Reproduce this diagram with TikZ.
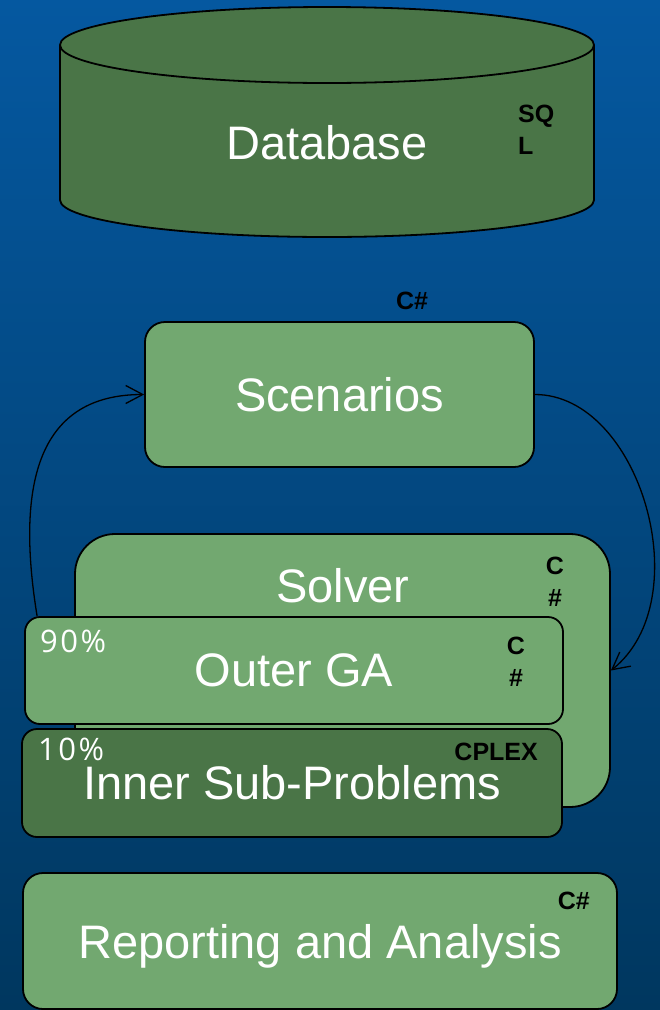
\documentclass[tikz,border=0pt]{standalone}
\usepackage{fontspec}
\setmainfont{Liberation Sans}
\newfontfamily\pctfont[LetterSpace=8]{Open Sans}
\usetikzlibrary{arrows.meta,calc}
\definecolor{bgtop}{HTML}{0558A0}
\definecolor{bgbottom}{HTML}{00375F}
\definecolor{lightgreen}{HTML}{72A870}
\definecolor{darkgreen}{HTML}{4A7547}
\tikzset{
  box/.style={draw=black, line width=1.8pt, fill=lightgreen, text=white,
    rounded corners=20pt, inner sep=0pt, font=\fontsize{47}{56}\selectfont},
  darkbox/.style={box, fill=darkgreen},
  title/.style={text=white, inner sep=0pt, font=\fontsize{47}{56}\selectfont},
  lang/.style={inner sep=0pt, font=\bfseries\fontsize{25}{32}\selectfont},
  share/.style={text=white, inner sep=0pt, font=\pctfont\fontsize{31}{36}\selectfont},
  flow/.style={draw=black, line width=1.3pt, -{Straight Barb[length=17pt,width=18pt,line width=1.3pt]}}
}
\begin{document}
\begin{tikzpicture}[x=1pt,y=-1pt]
\useasboundingbox (0,0) rectangle (660,1010);
\shade[top color=bgtop, bottom color=bgbottom] (0,0) rectangle (660,1010);
% database
  \draw[line width=1.8pt, fill=darkgreen] (327,200) ellipse [x radius=267, y radius=37];
  \fill[darkgreen] (60,45) rectangle (594,200);
  \draw[line width=1.8pt] (60,45) -- (60,200);
  \draw[line width=1.8pt] (594,45) -- (594,200);
  \draw[line width=1.8pt, fill=darkgreen] (327,45) ellipse [x radius=267, y radius=38];
  \node[title] (db) at (327,142.5) {Database};
  \node[lang, align=left, anchor=north west] (dblang) at (518,105) {SQ\\L};
% scenarios
  \node[box, minimum width=389, minimum height=145] (scen) at (339.5,394.5) {Scenarios};
  \node[lang, anchor=north] (scenlang) at (412,292) {C\#};
% solver
  \node[box, rounded corners=40pt, minimum width=535, minimum height=273] (solver) at (342.5,670.5) {};
  \node[title] (solvertitle) at (343,586) {Solver};
  \node[lang, align=center, anchor=north] (solverlang) at (555,557) {C\\\#};
  \node[box, rounded corners=15pt, minimum width=538, minimum height=107] (outer) at (294,670.5) {Outer GA};
  \node[share, anchor=north west] (outershare) at (40,630) {90\%};
  \node[lang, align=center, anchor=north] (outerlang) at (516,637) {C\\\#};
  \node[darkbox, rounded corners=15pt, minimum width=540, minimum height=108] (inner) at (292,783) {Inner Sub-Problems};
  \node[share, anchor=north west] (innershare) at (38,738) {10\%};
  \node[lang, anchor=north east] (innerlang) at (538,743) {CPLEX};
% reporting
  \node[box, text depth=0pt, minimum width=594, minimum height=136] (report) at (320,941) {Reporting and Analysis};
  \node[lang, anchor=north east] (reportlang) at (590,892) {C\#};
% loop
  \draw[flow] ($(outer.north west)+(13,0)$) .. controls (15,480) and (40,394.5) .. (scen.west);
  \draw[flow] (scen.east) .. controls (640,394.5) and (700,600) .. (solver.east);
\end{tikzpicture}
\end{document}
